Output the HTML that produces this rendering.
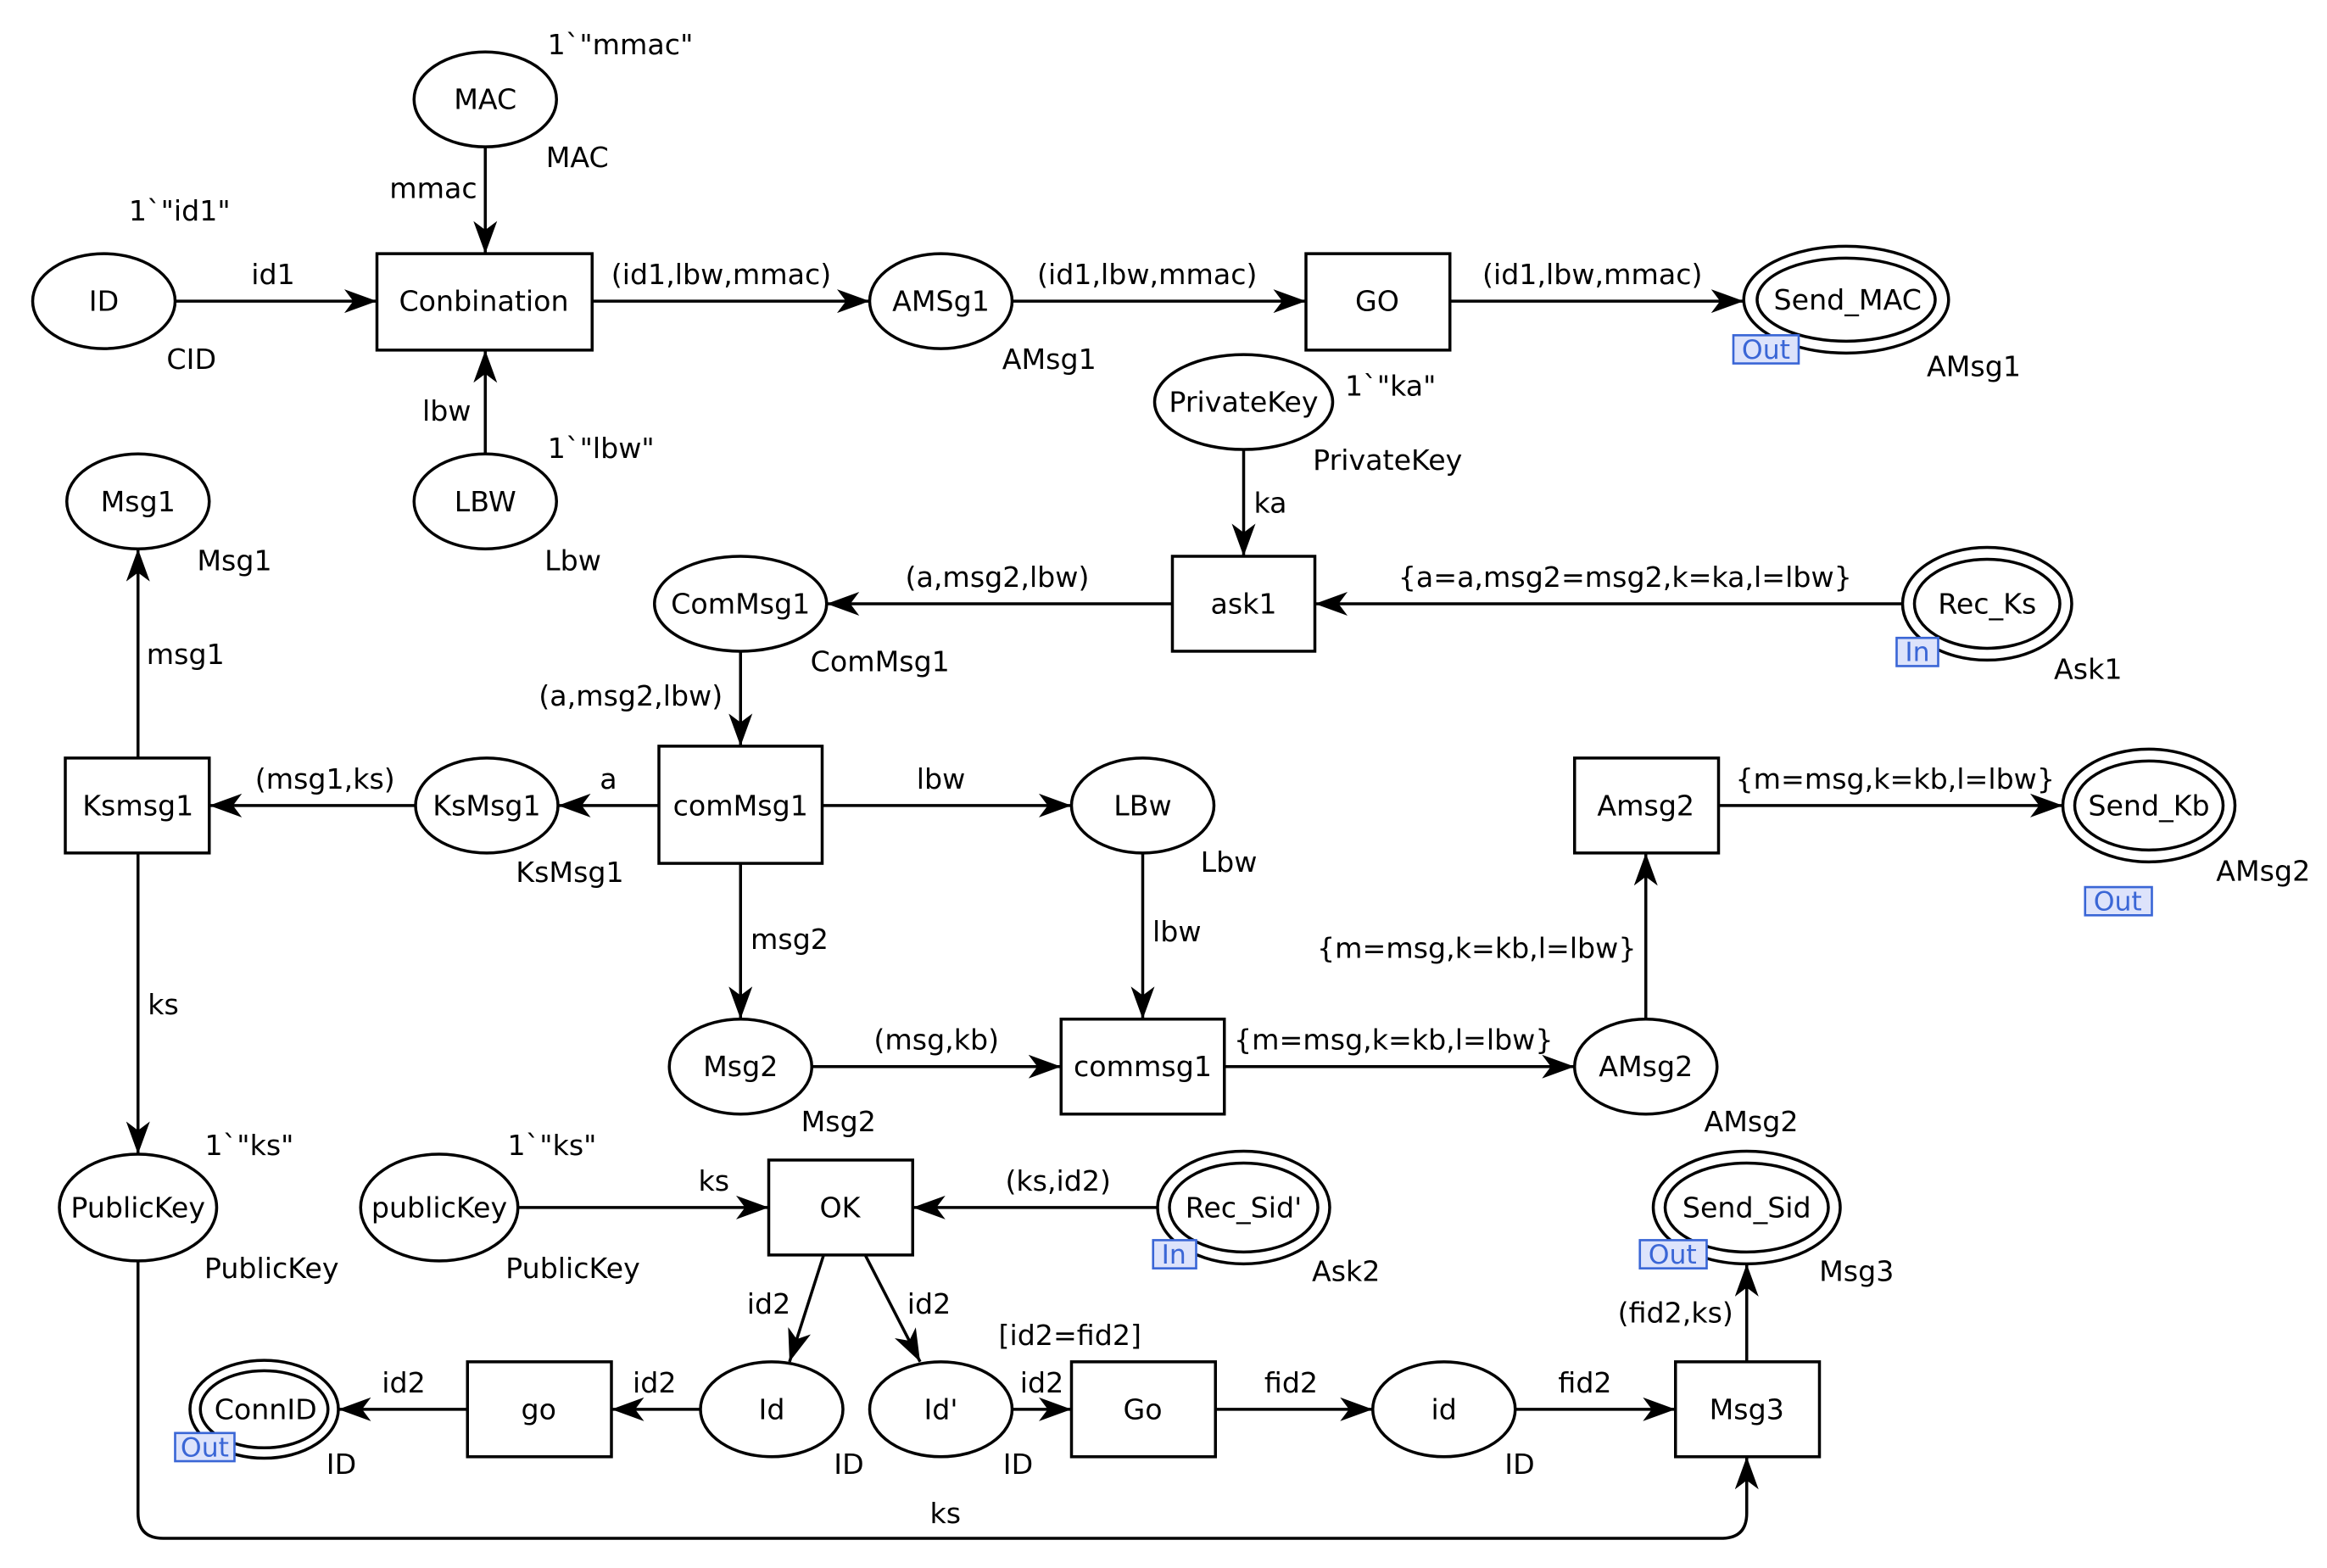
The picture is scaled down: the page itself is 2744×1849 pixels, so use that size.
<!DOCTYPE html>
<html><head><meta charset="utf-8"><style>
html,body{margin:0;padding:0;background:#fff;}
svg{display:block;}
text{font-family:"DejaVu Sans","Liberation Sans",sans-serif;font-size:19px;fill:#000;text-anchor:middle;dominant-baseline:central;}
.p{fill:#fff;stroke:#000;stroke-width:2;}
.a{stroke:#000;stroke-width:2;fill:none;marker-end:url(#ah);}
.tag{fill:#dde3fb;stroke:#3a66d6;stroke-width:1.5;}
.tt{fill:#3a66d6;font-size:18px;}
</style></head><body>
<svg width="2744" height="1849" viewBox="0 0 1568 1057" preserveAspectRatio="none" xmlns="http://www.w3.org/2000/svg">
<defs><marker id="ah" markerWidth="24" markerHeight="16" refX="22" refY="8" orient="auto" markerUnits="userSpaceOnUse"><path d="M0,0 L22,8 L0,16 L6,8 Z" fill="#000"/></marker></defs>
<rect width="1568" height="1057" fill="#fff"/>
<!-- arcs -->
<line class="a" x1="118" y1="203" x2="254" y2="203"/>
<line class="a" x1="327" y1="99" x2="327" y2="171"/>
<line class="a" x1="327" y1="306" x2="327" y2="236"/>
<line class="a" x1="399" y1="203" x2="586" y2="203"/>
<line class="a" x1="682" y1="203" x2="880" y2="203"/>
<line class="a" x1="977" y1="203" x2="1175" y2="203"/>
<line class="a" x1="838" y1="303" x2="838" y2="375"/>
<line class="a" x1="1282" y1="407" x2="886" y2="407"/>
<line class="a" x1="790" y1="407" x2="557" y2="407"/>
<line class="a" x1="499" y1="439" x2="499" y2="503"/>
<line class="a" x1="444" y1="543" x2="376" y2="543"/>
<line class="a" x1="280" y1="543" x2="141" y2="543"/>
<line class="a" x1="93" y1="511" x2="93" y2="370"/>
<line class="a" x1="93" y1="575" x2="93" y2="778"/>
<line class="a" x1="554" y1="543" x2="722" y2="543"/>
<line class="a" x1="499" y1="582" x2="499" y2="687"/>
<line class="a" x1="770" y1="575" x2="770" y2="687"/>
<line class="a" x1="547" y1="719" x2="715" y2="719"/>
<line class="a" x1="825" y1="719" x2="1061" y2="719"/>
<line class="a" x1="1109" y1="687" x2="1109" y2="575"/>
<line class="a" x1="1158" y1="543" x2="1390" y2="543"/>
<line class="a" x1="349" y1="814" x2="518" y2="814"/>
<line class="a" x1="780" y1="814" x2="615" y2="814"/>
<line class="a" x1="555" y1="846" x2="532" y2="918"/>
<line class="a" x1="583" y1="846" x2="620" y2="918"/>
<line class="a" x1="472" y1="950" x2="412" y2="950"/>
<line class="a" x1="315" y1="950" x2="228" y2="950"/>
<line class="a" x1="682" y1="950" x2="722" y2="950"/>
<line class="a" x1="819" y1="950" x2="925" y2="950"/>
<line class="a" x1="1021" y1="950" x2="1129" y2="950"/>
<line class="a" x1="1177" y1="918" x2="1177" y2="852"/>
<path class="a" d="M93,850 L93,1020 Q93,1037 110,1037 L1160,1037 Q1177,1037 1177,1020 L1177,982"/>
<!-- places -->
<ellipse class="p" cx="327" cy="67" rx="48" ry="32"/><text x="327" y="67">MAC</text>
<ellipse class="p" cx="70" cy="203" rx="48" ry="32"/><text x="70" y="203">ID</text>
<ellipse class="p" cx="634" cy="203" rx="48" ry="32"/><text x="634" y="203">AMSg1</text>
<ellipse class="p" cx="1244" cy="202" rx="69" ry="36"/><ellipse class="p" cx="1244" cy="202" rx="60" ry="28"/><text x="1245" y="202">Send_MAC</text>
<ellipse class="p" cx="838" cy="271" rx="60" ry="32"/><text x="838" y="271">PrivateKey</text>
<ellipse class="p" cx="327" cy="338" rx="48" ry="32"/><text x="327" y="338">LBW</text>
<ellipse class="p" cx="93" cy="338" rx="48" ry="32"/><text x="93" y="338">Msg1</text>
<ellipse class="p" cx="499" cy="407" rx="58" ry="32"/><text x="499" y="407">ComMsg1</text>
<ellipse class="p" cx="1339" cy="407" rx="57" ry="38"/><ellipse class="p" cx="1339" cy="407" rx="49" ry="30"/><text x="1339" y="407">Rec_Ks</text>
<ellipse class="p" cx="328" cy="543" rx="48" ry="32"/><text x="328" y="543">KsMsg1</text>
<ellipse class="p" cx="770" cy="543" rx="48" ry="32"/><text x="770" y="543">LBw</text>
<ellipse class="p" cx="1448" cy="543" rx="58" ry="38"/><ellipse class="p" cx="1448" cy="543" rx="50" ry="30"/><text x="1448" y="543">Send_Kb</text>
<ellipse class="p" cx="499" cy="719" rx="48" ry="32"/><text x="499" y="719">Msg2</text>
<ellipse class="p" cx="1109" cy="719" rx="48" ry="32"/><text x="1109" y="719">AMsg2</text>
<ellipse class="p" cx="93" cy="814" rx="53" ry="36"/><text x="93" y="814">PublicKey</text>
<ellipse class="p" cx="296" cy="814" rx="53" ry="36"/><text x="296" y="814">publicKey</text>
<ellipse class="p" cx="838" cy="814" rx="58" ry="38"/><ellipse class="p" cx="838" cy="814" rx="50" ry="30"/><text x="838" y="814">Rec_Sid'</text>
<ellipse class="p" cx="1177" cy="814" rx="63" ry="38"/><ellipse class="p" cx="1177" cy="814" rx="55" ry="30"/><text x="1177" y="814">Send_Sid</text>
<ellipse class="p" cx="178" cy="950" rx="50" ry="33"/><ellipse class="p" cx="178" cy="950" rx="43" ry="26"/><text x="179" y="950">ConnID</text>
<ellipse class="p" cx="520" cy="950" rx="48" ry="32"/><text x="520" y="950">Id</text>
<ellipse class="p" cx="634" cy="950" rx="48" ry="32"/><text x="634" y="950">Id'</text>
<ellipse class="p" cx="973" cy="950" rx="48" ry="32"/><text x="973" y="950">id</text>
<!-- transitions -->
<rect class="p" x="254" y="171" width="145" height="65"/><text x="326" y="203">Conbination</text>
<rect class="p" x="880" y="171" width="97" height="65"/><text x="928" y="203">GO</text>
<rect class="p" x="790" y="375" width="96" height="64"/><text x="838" y="407">ask1</text>
<rect class="p" x="44" y="511" width="97" height="64"/><text x="93" y="543">Ksmsg1</text>
<rect class="p" x="444" y="503" width="110" height="79"/><text x="499" y="543">comMsg1</text>
<rect class="p" x="1061" y="511" width="97" height="64"/><text x="1109" y="543">Amsg2</text>
<rect class="p" x="715" y="687" width="110" height="64"/><text x="770" y="719">commsg1</text>
<rect class="p" x="518" y="782" width="97" height="64"/><text x="566" y="814">OK</text>
<rect class="p" x="315" y="918" width="97" height="64"/><text x="363" y="950">go</text>
<rect class="p" x="722" y="918" width="97" height="64"/><text x="770" y="950">Go</text>
<rect class="p" x="1129" y="918" width="97" height="64"/><text x="1177" y="950">Msg3</text>
<!-- port tags -->
<rect class="tag" x="1168" y="226" width="44" height="19"/><text class="tt" x="1190" y="236">Out</text>
<rect class="tag" x="1278" y="430" width="28" height="19"/><text class="tt" x="1292" y="440">In</text>
<rect class="tag" x="1405" y="598" width="45" height="19"/><text class="tt" x="1427" y="608">Out</text>
<rect class="tag" x="777" y="836" width="29" height="19"/><text class="tt" x="791" y="846">In</text>
<rect class="tag" x="1105" y="836" width="45" height="19"/><text class="tt" x="1127" y="846">Out</text>
<rect class="tag" x="118" y="966" width="40" height="19"/><text class="tt" x="138" y="976">Out</text>
<!-- arc labels -->
<text x="184" y="185">id1</text>
<text x="292" y="127">mmac</text>
<text x="301" y="277">lbw</text>
<text x="486" y="185">(id1,lbw,mmac)</text>
<text x="773" y="185">(id1,lbw,mmac)</text>
<text x="1073" y="185">(id1,lbw,mmac)</text>
<text x="856" y="339">ka</text>
<text x="1095" y="389">{a=a,msg2=msg2,k=ka,l=lbw}</text>
<text x="672" y="389">(a,msg2,lbw)</text>
<text x="425" y="469">(a,msg2,lbw)</text>
<text x="410" y="525">a</text>
<text x="219" y="525">(msg1,ks)</text>
<text x="125" y="441">msg1</text>
<text x="110" y="677">ks</text>
<text x="634" y="525">lbw</text>
<text x="532" y="633">msg2</text>
<text x="793" y="628">lbw</text>
<text x="631" y="701">(msg,kb)</text>
<text x="939" y="701">{m=msg,k=kb,l=lbw}</text>
<text x="995" y="639">{m=msg,k=kb,l=lbw}</text>
<text x="1277" y="525">{m=msg,k=kb,l=lbw}</text>
<text x="481" y="796">ks</text>
<text x="713" y="796">(ks,id2)</text>
<text x="518" y="879">id2</text>
<text x="626" y="879">id2</text>
<text x="441" y="932">id2</text>
<text x="272" y="932">id2</text>
<text x="702" y="932">id2</text>
<text x="721" y="900">[id2=fid2]</text>
<text x="870" y="932">fid2</text>
<text x="1068" y="932">fid2</text>
<text x="1129" y="885">(fid2,ks)</text>
<text x="637" y="1020">ks</text>
<!-- annotations -->
<text x="418" y="30">1`"mmac"</text>
<text x="389" y="106">MAC</text>
<text x="121" y="142">1`"id1"</text>
<text x="129" y="242">CID</text>
<text x="707" y="242">AMsg1</text>
<text x="1330" y="247">AMsg1</text>
<text x="937" y="260">1`"ka"</text>
<text x="935" y="310">PrivateKey</text>
<text x="405" y="302">1`"lbw"</text>
<text x="386" y="378">Lbw</text>
<text x="158" y="378">Msg1</text>
<text x="593" y="446">ComMsg1</text>
<text x="1407" y="451">Ask1</text>
<text x="384" y="588">KsMsg1</text>
<text x="828" y="581">Lbw</text>
<text x="1525" y="587">AMsg2</text>
<text x="565" y="756">Msg2</text>
<text x="1180" y="756">AMsg2</text>
<text x="168" y="772">1`"ks"</text>
<text x="372" y="772">1`"ks"</text>
<text x="183" y="855">PublicKey</text>
<text x="386" y="855">PublicKey</text>
<text x="907" y="857">Ask2</text>
<text x="1251" y="857">Msg3</text>
<text x="230" y="987">ID</text>
<text x="572" y="987">ID</text>
<text x="686" y="987">ID</text>
<text x="1024" y="987">ID</text>
</svg>
</body></html>
